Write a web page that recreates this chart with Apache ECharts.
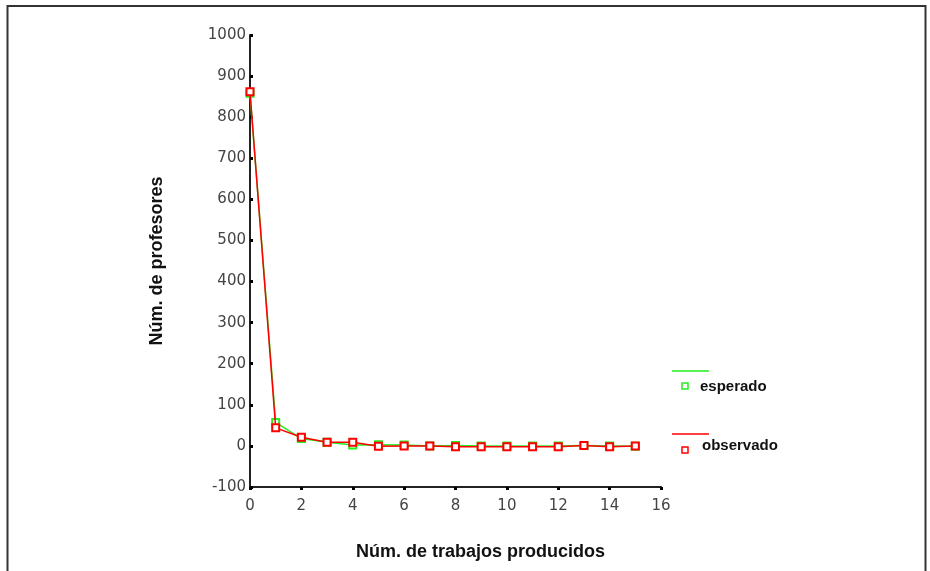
<!DOCTYPE html>
<html><head><meta charset="utf-8">
<script src="https://cdn.jsdelivr.net/npm/echarts@6/dist/echarts.min.js"></script>
<style>html,body{margin:0;padding:0;background:#fff}#c{width:930px;height:571px}</style>
</head><body><div id="c"></div>
<script>
const xValues = [0,1,2,3,4,5,6,7,8,9,10,11,12,13,14,15];
const esperado = [858,57,18,9,2,3,2,0,1,0,0,0,0,1,0,-1];
const observado = [862,44,21,9,9,-1,0,0,-2,-2,-2,-2,-2,1,-2,0];
const seriesNames = ['esperado','observado'];
const seriesColors = ['#22ee22','#ff0000'];
const xTitle = 'Núm. de trabajos producidos';
const yTitle = 'Núm. de profesores';

const chart = echarts.init(document.getElementById('c'));
const font = 'DejaVu Sans';
const narrow = '"Liberation Sans Narrow","Liberation Sans",Arial,sans-serif';
function pts(arr){return xValues.map((x,i)=>[x,arr[i]]);}
chart.setOption({
  animation:false,
  grid:{left:250,right:269,top:35,height:452},
  xAxis:{type:'value',min:0,max:16,interval:2,
    axisLine:{onZero:false,lineStyle:{color:'#222',width:2}},
    axisTick:{show:true,length:3,lineStyle:{color:'#000',width:3}},
    axisLabel:{color:'#444',fontFamily:font,fontSize:15,margin:12},
    splitLine:{show:false},
    name:xTitle,nameLocation:'middle',nameGap:56,
    nameTextStyle:{fontFamily:narrow,fontWeight:'bold',fontSize:18,color:'#111',padding:[0,0,0,50]}},
  yAxis:{type:'value',min:-100,max:1000,interval:100,
    axisLine:{show:true,lineStyle:{color:'#222',width:2}},
    axisTick:{show:true,inside:true,length:3,lineStyle:{color:'#000',width:3}},
    axisLabel:{color:'#444',fontFamily:font,fontSize:15,margin:4,formatter:v=>String(v)},
    splitLine:{show:false},
    name:yTitle,nameLocation:'middle',nameGap:84,nameRotate:90,
    nameTextStyle:{fontFamily:narrow,fontWeight:'bold',fontSize:18,color:'#111'}},
  series:[
    {name:seriesNames[0],type:'line',data:pts(esperado),symbol:'emptyRect',symbolSize:7,
     lineStyle:{color:seriesColors[0],width:1.5},itemStyle:{color:seriesColors[0],borderWidth:1.5},z:2},
    {name:seriesNames[1],type:'line',data:pts(observado),symbol:'emptyRect',symbolSize:7,
     lineStyle:{color:seriesColors[1],width:1.5},itemStyle:{color:seriesColors[1],borderWidth:1.5},z:3}
  ],
  graphic:[
    {type:'polyline',shape:{points:[[7.5,571],[7.5,6],[925.5,6],[925.5,571]]},style:{stroke:'#333',lineWidth:2,fill:null}},
    {type:'line',shape:{x1:672,y1:371,x2:709,y2:371},style:{stroke:seriesColors[0],lineWidth:1.5}},
    {type:'rect',shape:{x:682,y:383,width:6,height:6},style:{stroke:seriesColors[0],lineWidth:1.5,fill:'#fff'}},
    {type:'text',left:700,top:379,style:{text:seriesNames[0],font:'bold 15px '+narrow,fill:'#111'}},
    {type:'line',shape:{x1:672,y1:434,x2:709,y2:434},style:{stroke:seriesColors[1],lineWidth:1.5}},
    {type:'rect',shape:{x:682,y:447,width:6,height:6},style:{stroke:seriesColors[1],lineWidth:1.5,fill:'#fff'}},
    {type:'text',left:702,top:438,style:{text:seriesNames[1],font:'bold 15px '+narrow,fill:'#111'}}
  ]
});
</script></body></html>
